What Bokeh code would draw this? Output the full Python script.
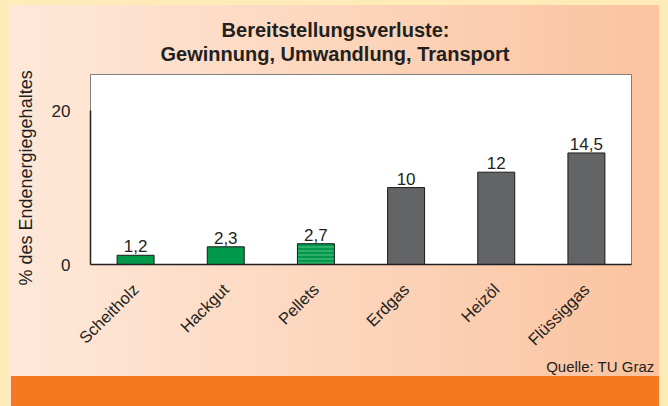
from math import pi
from bokeh.plotting import figure
from bokeh.models import (Range1d, FactorRange, ColumnDataSource, Title,
                          FixedTicker, GlobalInlineStyleSheet)
from bokeh.core.properties import value
from bokeh.embed import file_html
from bokeh.resources import INLINE

# ---- data ----
categories = ["Scheitholz", "Hackgut", "Pellets", "Erdgas", "Heizöl", "Flüssiggas"]
losses = [1.2, 2.3, 2.7, 10, 12, 14.5]
loss_labels = ["1,2", "2,3", "2,7", "10", "12", "14,5"]
y_ticks = [0, 20]
title_lines = ["Bereitstellungsverluste:", "Gewinnung, Umwandlung, Transport"]
y_title = "% des Endenergiegehaltes"
source_note = "Quelle: TU Graz"

# ---- style ----
FONT = "Liberation Sans"
TXT = "#231f20"
GREEN = "#00994a"
GREY = "#636466"
bar_colors = [GREEN, GREEN, GREEN, GREY, GREY, GREY]
bar_hatch = [" ", " ", "-", " ", " ", " "]

W, H = 668, 406
BL, BR, BT, BB = 90, 37, 74, 142

src = ColumnDataSource(dict(cat=categories, val=losses, lab=loss_labels,
                            color=bar_colors, hatch=bar_hatch))

p = figure(width=W, height=H, x_range=FactorRange(*categories),
           y_range=Range1d(0, 24.7), output_backend="svg",
           toolbar_location=None, min_border_left=BL, min_border_right=BR,
           min_border_top=BT, min_border_bottom=BB,
           background_fill_color="white", border_fill_color=None,
           outline_line_color="#7f7f7f", outline_line_width=1)
p.styles = {
    "background": "linear-gradient(#f47920, #f47920) 11px 376px / 648px 30px no-repeat, "
                  "linear-gradient(to right, #fee8d9, #fcd6bd, #fbc39f) 10px 5px / 649px 401px no-repeat, "
                  "#ffebb8"
}
p.stylesheets = [GlobalInlineStyleSheet(css="body { background: #ffebb8; }")]

p.xgrid.visible = False
p.ygrid.visible = False

p.vbar(x="cat", top="val", width=0.41, source=src, fill_color="color",
       line_color="#1a1a1a", line_width=1, hatch_pattern="hatch",
       hatch_color="#7fd3a3", hatch_scale=4, hatch_weight=1, hatch_alpha=0.7)

p.text(x="cat", y="val", text="lab", source=src, text_align="center",
       text_baseline="alphabetic", y_offset=-9, text_font=value(FONT),
       text_font_size="17px", text_color=TXT)

# axes
xa = p.xaxis[0]
xa.major_label_orientation = pi / 4
xa.major_label_text_font = FONT
xa.major_label_text_font_size = "16.5px"
xa.major_label_text_color = TXT
xa.major_tick_line_color = None
xa.minor_tick_line_color = None
xa.major_label_standoff = 16
xa.axis_line_color = "#231f20"
xa.axis_line_width = 1.5

ya = p.yaxis[0]
ya.ticker = FixedTicker(ticks=y_ticks)
ya.bounds = (0, 20)
ya.major_label_text_font = FONT
ya.major_label_text_font_size = "17px"
ya.major_label_text_color = TXT
ya.major_tick_line_color = None
ya.minor_tick_line_color = None
ya.major_label_standoff = 14
ya.axis_line_color = "#231f20"
ya.axis_line_width = 1.5

# y-axis title, placed outside the axis, starting a little below the frame
p.add_layout(Title(text=y_title, align="left", offset=-21, standoff=26,
                   text_font=FONT, text_font_size="18px", text_font_style="normal",
                   text_color=TXT), "left")

# two-line title centred on the panel (line widths in em for Liberation Sans Bold)
title_em = [11.39, 17.50]
title_px = 20
panel_center = 335
title_standoff = [-19, 19]
for t, em, so in reversed(list(zip(title_lines, title_em, title_standoff))):
    off = panel_center - BL - em * title_px / 2
    p.add_layout(Title(text=t, align="left", offset=off, standoff=so,
                       text_font=FONT, text_font_size=f"{title_px}px",
                       text_font_style="bold", text_color=TXT), "above")

p.add_layout(Title(text=source_note, align="right", offset=-23, standoff=-3,
                   text_font=FONT, text_font_size="15px", text_font_style="normal",
                   text_color=TXT), "below")

open("out.html", "w").write(file_html(p, INLINE))
